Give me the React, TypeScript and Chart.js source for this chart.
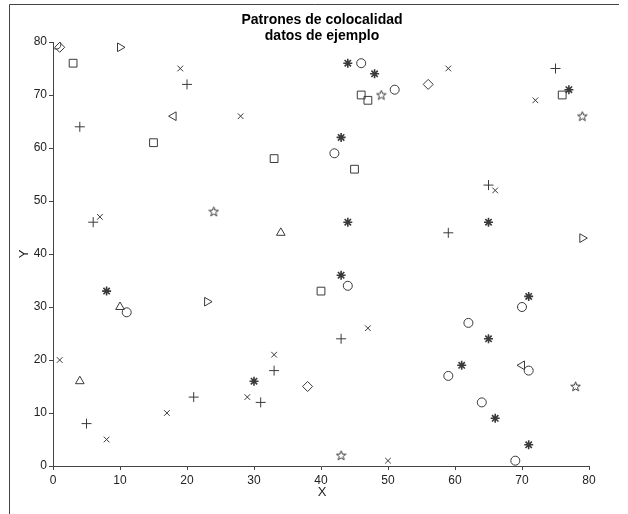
import React, { useEffect, useRef } from 'react';
import { Chart, registerables } from 'chart.js';

Chart.register(...registerables);

const titleLines = ['Patrones de colocalidad', 'datos de ejemplo'];
const xLabel = 'X';
const yLabel = 'Y';
const axisMin = 0;
const axisMax = 80;
const axisStep = 10;

const circlePts = [[0.5, 79.5], [46, 76], [51, 71], [42, 59], [44, 34], [11, 29], [70, 30], [62, 27], [71, 18], [59, 17], [64, 12], [69, 1]];
const squarePts = [[3, 76], [15, 61], [33, 58], [46, 70], [47, 69], [45, 56], [40, 33], [76, 70]];
const plusPts = [[4, 64], [20, 72], [6, 46], [75, 75], [65, 53], [59, 44], [43, 24], [33, 18], [31, 12], [5, 8], [21, 13]];
const crossPts = [[19, 75], [28, 66], [59, 75], [72, 69], [7, 47], [66, 52], [1, 20], [8, 5], [17, 10], [47, 26], [33, 21], [29, 13], [50, 1]];
const asteriskPts = [[44, 76], [48, 74], [43, 62], [77, 71], [44, 46], [65, 46], [8, 33], [43, 36], [71, 32], [65, 24], [61, 19], [30, 16], [66, 9], [71, 4]];
const diamondPts = [[1, 79], [56, 72], [38, 15]];
const pentagramPts = [[49, 70], [79, 66], [24, 48], [78, 15], [43, 2]];
const triUpPts = [[34, 44], [10, 30], [4, 16]];
const triRightPts = [[10, 79], [23, 31], [79, 43]];
const triLeftPts = [[18, 66], [70, 19]];

const MARK = '#3a3a3a';

function makePentagram(): HTMLCanvasElement {
  const c = document.createElement('canvas');
  c.width = 11;
  c.height = 11;
  const ctx = c.getContext('2d')!;
  const cx = 5.5, cy = 5.8, R = 5, r = 2.1;
  ctx.beginPath();
  for (let i = 0; i < 10; i++) {
    const ang = -Math.PI / 2 + (i * Math.PI) / 5;
    const rad = i % 2 === 0 ? R : r;
    const px = cx + rad * Math.cos(ang);
    const py = cy + rad * Math.sin(ang);
    if (i === 0) ctx.moveTo(px, py);
    else ctx.lineTo(px, py);
  }
  ctx.closePath();
  ctx.strokeStyle = MARK;
  ctx.lineWidth = 1;
  ctx.stroke();
  return c;
}

const toXY = (arr: number[][]) => arr.map(([x, y]) => ({ x, y }));

export default function App() {
  const ref = useRef<HTMLCanvasElement>(null);

  useEffect(() => {
    if (!ref.current) return;
    const pent = makePentagram();
    const ds = (data: number[][], style: any, radius: number, rotation = 0, width = 1) => ({
      data: toXY(data),
      pointStyle: style,
      pointRadius: radius,
      pointRotation: rotation,
      pointBorderColor: MARK,
      pointBackgroundColor: 'rgba(0,0,0,0)',
      pointBorderWidth: width,
      showLine: false,
    });

    const framePlugin = {
      id: 'frame',
      beforeDraw(chart: any) {
        const ctx = chart.ctx;
        ctx.save();
        ctx.fillStyle = '#ffffff';
        ctx.fillRect(0, 0, chart.width, chart.height);
        ctx.strokeStyle = '#444';
        ctx.lineWidth = 1;
        ctx.beginPath();
        ctx.moveTo(9.5, 514);
        ctx.lineTo(9.5, 4.5);
        ctx.lineTo(619, 4.5);
        ctx.stroke();
        ctx.restore();
      },
      afterDraw(chart: any) {
        const ctx = chart.ctx;
        ctx.save();
        ctx.fillStyle = '#000';
        ctx.textAlign = 'center';
        ctx.textBaseline = 'middle';
        ctx.font = 'bold 14px "Liberation Sans", Arial, sans-serif';
        ctx.fillText(titleLines[0], 322, 20);
        ctx.fillText(titleLines[1], 322, 36);
        ctx.font = '13px "Liberation Sans", Arial, sans-serif';
        ctx.fillStyle = '#222';
        ctx.fillText(xLabel, 322, 492);
        ctx.translate(24, 254);
        ctx.rotate(-Math.PI / 2);
        ctx.fillText(yLabel, 0, 0);
        ctx.restore();
      },
    };

    const tickFont = { family: '"Liberation Sans", Arial, sans-serif', size: 12 };
    const axisCommon = {
      type: 'linear' as const,
      min: axisMin,
      max: axisMax,
      grid: { display: true, drawOnChartArea: false, drawTicks: true, tickLength: 4, tickColor: '#444' },
      border: { display: true, color: '#444', width: 1 },
    };

    const chart = new Chart(ref.current, {
      type: 'scatter',
      data: {
        datasets: [
          ds(circlePts, 'circle', 4.5),
          ds(squarePts, 'rect', 5.5),
          ds(plusPts, 'cross', 5),
          ds(crossPts, 'crossRot', 4),
          ds(asteriskPts, 'star', 4.5, 0, 1.6),
          ds(diamondPts, 'rectRot', 5),
          ds(pentagramPts, pent, 5),
          ds(triUpPts, 'triangle', 5),
          ds(triRightPts, 'triangle', 5, 90),
          ds(triLeftPts, 'triangle', 5, -90),
        ] as any,
      },
      options: {
        animation: false,
        responsive: false,
        devicePixelRatio: 1,
        layout: { padding: { top: 42, right: 39, left: 0, bottom: 0 } },
        plugins: { legend: { display: false }, tooltip: { enabled: false }, title: { display: false } },
        scales: {
          x: {
            ...axisCommon,
            position: 'bottom',
            ticks: { stepSize: axisStep, font: tickFont, color: '#222', padding: 3, maxRotation: 0 },
            afterFit: (s: any) => { s.height = 48; },
          },
          y: {
            ...axisCommon,
            position: 'left',
            ticks: { stepSize: axisStep, font: tickFont, color: '#222', padding: 2 },
            afterFit: (s: any) => { s.width = 53; },
          },
        } as any,
      },
      plugins: [framePlugin],
    });
    return () => chart.destroy();
  }, []);

  return (
    <div style={{ position: 'absolute', left: 0, top: 0, width: 628, height: 514 }}>
      <canvas ref={ref} width={628} height={514} style={{ display: 'block' }} />
    </div>
  );
}
